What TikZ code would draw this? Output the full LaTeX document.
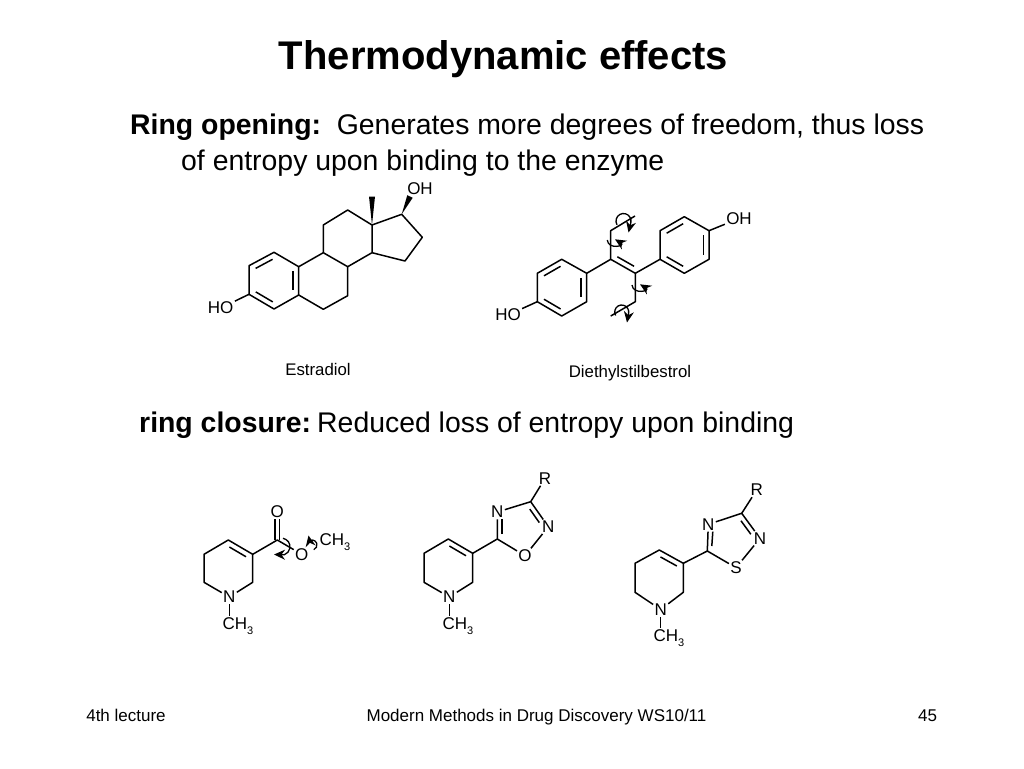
\documentclass[tikz,border=0pt]{standalone}
\usepackage{fontspec}
\setmainfont{Liberation Sans}
\usepackage{tikz}
\usetikzlibrary{calc,arrows.meta}

\tikzset{
  bond/.style = {line width = 1.5pt, line join = round},
  atom/.style = {inner sep = 1.2pt, font = \fontsize{17}{19}\selectfont},
  molname/.style = {anchor = base, inner sep = 0pt, font = \fontsize{16.8}{19}\selectfont},
  bodytext/.style = {anchor = base west, inner sep = 0pt, font = \fontsize{28.4}{32}\selectfont},
  foottext/.style = {anchor = base, inner sep = 0pt, font = \fontsize{17}{19}\selectfont},
  rotarrow/.style = {line width = 1.3pt, -{Stealth[length = 11pt, width = 10pt]}}
}
\newcommand{\innerbond}[3]{\draw[bond] ($(#1)!0.16!(#2)!5.5pt!#3:(#2)$) -- ($(#2)!0.16!(#1)!5.5pt!-#3:(#1)$);}
\newcommand{\wedgebond}[2]{\fill (#1) -- ($(#2)!3pt!90:(#1)$) -- ($(#2)!3pt!-90:(#1)$) -- cycle;}
\newcommand{\twist}[5]{\draw[rotarrow] ($(#1)+(#2:#4)$) arc[start angle = #2, end angle = #3, radius = #4] -- (#5);}
\newcommand{\methyl}{CH\raisebox{-0.3em}{\fontsize{11}{11}\selectfont 3}}

\begin{document}
\begin{tikzpicture}[x = 1pt, y = -1pt]
\useasboundingbox (0,0) rectangle (1024,768);

% texts of the slide
\node[anchor = base, font = \fontsize{40}{44}\selectfont\bfseries, inner sep = 0pt] (title) at (503.5,70) {Thermodynamic effects};
\node[bodytext] (open1) at (130,134) {\textbf{Ring opening:}\ \ Generates more degrees of freedom, thus loss};
\node[bodytext] (open2) at (181,170) {of entropy upon binding to the enzyme};
\node[bodytext] (close1) at (139,432) {\textbf{ring closure:}\hspace{6pt}Reduced loss of entropy upon binding};
\node[foottext] (foot1) at (126,721) {4th lecture};
\node[foottext] (foot2) at (536.5,721) {Modern Methods in Drug Discovery WS10/11};
\node[foottext] (foot3) at (927.5,721) {45};
\node[molname] (estname) at (318,375) {Estradiol};
\node[molname] (desname) at (630,377) {Diethylstilbestrol};

% estradiol
\coordinate (e1) at (249,294.3);
\coordinate (e2) at (249,265.7);
\coordinate (e3) at (274,252.3);
\coordinate (e4) at (298.7,266.7);
\coordinate (e5) at (298.7,295);
\coordinate (e6) at (274,309);
\coordinate (e7) at (323.3,252.7);
\coordinate (e8) at (347.7,266.7);
\coordinate (e9) at (347.7,295.7);
\coordinate (e10) at (323.3,309.3);
\coordinate (e11) at (323.3,225);
\coordinate (e12) at (347.7,210);
\coordinate (e13) at (372,225);
\coordinate (e14) at (372,252.7);
\coordinate (e15) at (401.7,214.3);
\coordinate (e16) at (422.3,237.3);
\coordinate (e17) at (405,261);
\coordinate (eme) at (372,196.5);
\coordinate (eox) at (410,196.5);
\node[atom] (eoh) at (420,189) {OH};
\node[atom] (eho) at (220.7,308) {HO};

\draw[bond] (e1) -- (e2) -- (e3) -- (e4) -- (e5) -- (e6) -- cycle;
\draw[bond] (e4) -- (e7) -- (e8) -- (e9) -- (e10) -- (e5);
\draw[bond] (e7) -- (e11) -- (e12) -- (e13) -- (e14) -- (e8);
\draw[bond] (e13) -- (e15) -- (e16) -- (e17) -- (e14);
\draw[bond] (e1) -- (eho);
\innerbond{e2}{e3}{-90}
\innerbond{e4}{e5}{-90}
\innerbond{e6}{e1}{-90}
\wedgebond{e13}{eme}
\wedgebond{e15}{eox}

% diethylstilbestrol
\coordinate (d1) at (537.3,301.7);
\coordinate (d2) at (537.3,273.3);
\coordinate (d3) at (561.7,259.3);
\coordinate (d4) at (586.7,273.3);
\coordinate (d5) at (586.7,301.7);
\coordinate (d6) at (561.7,316);
\coordinate (d7) at (610.7,259.3);
\coordinate (d8) at (635.3,273.3);
\coordinate (d9) at (660,259.3);
\coordinate (d10) at (660,230.7);
\coordinate (d11) at (684.3,216.7);
\coordinate (d12) at (709,230.7);
\coordinate (d13) at (709,259.3);
\coordinate (d14) at (684.3,273.3);
\coordinate (d15) at (610.7,230.7);
\coordinate (d16) at (635,216);
\coordinate (d17) at (635.3,301.7);
\coordinate (d18) at (610.7,316);
\node[atom] (doh) at (739,218.5) {OH};
\node[atom] (dho) at (508,315) {HO};

\draw[bond] (d1) -- (d2) -- (d3) -- (d4) -- (d5) -- (d6) -- cycle;
\draw[bond] (d9) -- (d10) -- (d11) -- (d12) -- (d13) -- (d14) -- cycle;
\draw[bond] (d16) -- (d15) -- (d7) -- (d8) -- (d17) -- (d18);
\draw[bond] (d4) -- (d7);
\draw[bond] (d8) -- (d9);
\draw[bond] (d1) -- (dho);
\draw[bond] (d12) -- (doh);
\innerbond{d2}{d3}{-90}
\innerbond{d4}{d5}{-90}
\innerbond{d6}{d1}{-90}
\innerbond{d10}{d11}{-90}
\innerbond{d12}{d13}{-90}
\innerbond{d14}{d9}{-90}
\innerbond{d7}{d8}{90}

% bond rotations
\coordinate (rot1) at (623.5,221);
\coordinate (rot4) at (621.7,312);
\coordinate (tip1) at (628.5,232.5);
\coordinate (tip4) at (627,322.5);
\twist{rot1}{210}{-10}{7.5pt}{tip1}
\twist{rot4}{210}{-10}{7pt}{tip4}
\draw[rotarrow] (607.3,240) .. controls (608,250) and (626,246) .. (615,239.3);
\draw[rotarrow] (632,285) .. controls (633,295) and (651,291) .. (640,284.3);

% ester
\coordinate (a1) at (204,582.3);
\coordinate (a2) at (204,554.3);
\coordinate (a3) at (228.3,540);
\coordinate (a4) at (252.7,554.3);
\coordinate (a5) at (252.7,582.3);
\coordinate (a6) at (277.3,540);
\node[atom] (an) at (229.3,597) {N};
\node[atom] (ame) at (238,625.7) {\methyl};
\node[atom] (ao1) at (277.3,511.7) {O};
\node[atom] (ao2) at (301.7,554.3) {O};
\node[atom] (ame2) at (335,542.5) {\methyl};

\draw[bond] (an) -- (a1) -- (a2) -- (a3) -- (a4) -- (a5) -- (an);
\draw[bond] (an) -- (ame.north -| an);
\draw[bond] (a4) -- (a6) -- (ao2);
\draw[bond] ([xshift = -2.2pt]a6) -- ([xshift = -2.2pt]ao1.south);
\draw[bond] ([xshift = 2.2pt]a6) -- ([xshift = 2.2pt]ao1.south);
\innerbond{a3}{a4}{-90}
\coordinate (rot5) at (281.5,546.7);
\coordinate (rot6) at (312,545);
\coordinate (tip5) at (274,554.5);
\coordinate (tip6) at (308.5,535.5);
\twist{rot5}{80}{-70}{8.5pt}{tip5}
\twist{rot6}{-70}{120}{5pt}{tip6}

% oxadiazole
\coordinate (b1) at (424,582.3);
\coordinate (b2) at (424,553.3);
\coordinate (b3) at (448.3,539);
\coordinate (b4) at (472.7,553.3);
\coordinate (b5) at (472.7,582.3);
\coordinate (b6) at (497.3,539);
\coordinate (b7) at (530.7,501.7);
\node[atom] (bn) at (449.3,597) {N};
\node[atom] (bme) at (458,625.7) {\methyl};
\node[atom] (bn2) at (497.3,512) {N};
\node[atom] (bn3) at (548.3,526.7) {N};
\node[atom] (bo) at (525,555.7) {O};
\node[atom] (br) at (545,478.5) {R};

\draw[bond] (bn) -- (b1) -- (b2) -- (b3) -- (b4) -- (b5) -- (bn);
\draw[bond] (bn) -- (bme.north -| bn);
\draw[bond] (b4) -- (b6) -- (bn2) -- (b7) -- (bn3) -- (bo) -- (b6);
\draw[bond] (b7) -- (br);
\innerbond{b3}{b4}{-90}
\draw[bond] ([xshift = 4.5pt]b6) ++(0,-5) -- ([xshift = 4.5pt]bn2.south);
\draw[bond] ($(b7)!0.18!(bn3)!5pt!-90:(bn3)$) -- ($(b7)!0.72!(bn3)!5pt!-90:(bn3)$);

% thiadiazole
\coordinate (c1) at (635,592.3);
\coordinate (c2) at (635,563.3);
\coordinate (c3) at (659.3,550);
\coordinate (c4) at (683.3,563.3);
\coordinate (c5) at (683.3,592.3);
\coordinate (c6) at (707.3,551);
\coordinate (c7) at (741.7,513.3);
\node[atom] (cn) at (660.7,609.5) {N};
\node[atom] (cme) at (669,637.7) {\methyl};
\node[atom] (cn2) at (708.3,524.3) {N};
\node[atom] (cn3) at (760,538.3) {N};
\node[atom] (cs) at (736,567.7) {S};
\node[atom] (cr) at (756.7,490) {R};

\draw[bond] (cn) -- (c1) -- (c2) -- (c3) -- (c4) -- (c5) -- (cn);
\draw[bond] (cn) -- (cme.north -| cn);
\draw[bond] (c4) -- (c6) -- (cn2) -- (c7) -- (cn3) -- (cs) -- (c6);
\draw[bond] (c7) -- (cr);
\innerbond{c3}{c4}{-90}
\draw[bond] ([xshift = 4.5pt]c6) ++(0,-5) -- ([xshift = 4.5pt]cn2.south);
\draw[bond] ($(c7)!0.18!(cn3)!5pt!-90:(cn3)$) -- ($(c7)!0.72!(cn3)!5pt!-90:(cn3)$);
\end{tikzpicture}
\end{document}
